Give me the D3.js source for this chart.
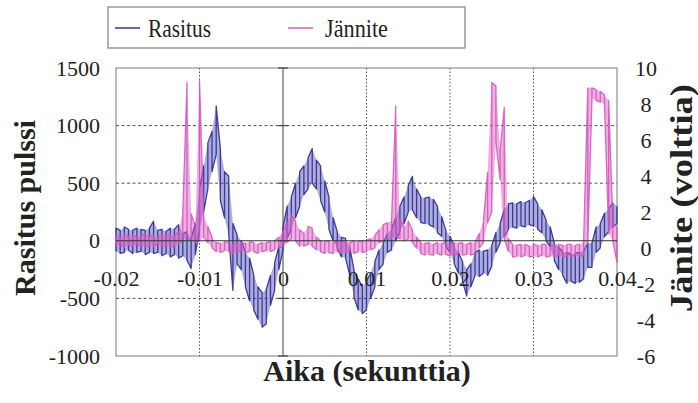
<!DOCTYPE html>
<html>
<head>
<meta charset="utf-8">
<script src="https://cdn.jsdelivr.net/npm/d3@7"></script>
<style>
  body { margin: 0; background: #fff; }
  svg text { font-family: "Liberation Serif", "Times New Roman", serif; fill: #222; }
</style>
</head>
<body>
<div id="chart"></div>
<script>
// sample times (s)
const times = [
  -0.0200, -0.0195, -0.0190, -0.0185, -0.0180, -0.0175, -0.0170, -0.0165, -0.0160, -0.0155,
  -0.0150, -0.0145, -0.0140, -0.0135, -0.0130, -0.0125, -0.0120, -0.0115, -0.0110, -0.0105,
  -0.0100, -0.0095, -0.0090, -0.0085, -0.0080, -0.0075, -0.0070, -0.0065, -0.0060, -0.0055,
  -0.0050, -0.0045, -0.0040, -0.0035, -0.0030, -0.0025, -0.0020, -0.0015, -0.0010, -0.0005,
   0.0000,  0.0005,  0.0010,  0.0015,  0.0020,  0.0025,  0.0030,  0.0035,  0.0040,  0.0045,
   0.0050,  0.0055,  0.0060,  0.0065,  0.0070,  0.0075,  0.0080,  0.0085,  0.0090,  0.0095,
   0.0100,  0.0105,  0.0110,  0.0115,  0.0120,  0.0125,  0.0130,  0.0135,  0.0140,  0.0145,
   0.0150,  0.0155,  0.0160,  0.0165,  0.0170,  0.0175,  0.0180,  0.0185,  0.0190,  0.0195,
   0.0200,  0.0205,  0.0210,  0.0215,  0.0220,  0.0225,  0.0230,  0.0235,  0.0240,  0.0245,
   0.0250,  0.0255,  0.0260,  0.0265,  0.0270,  0.0275,  0.0280,  0.0285,  0.0290,  0.0295,
   0.0300,  0.0305,  0.0310,  0.0315,  0.0320,  0.0325,  0.0330,  0.0335,  0.0340,  0.0345,
   0.0350,  0.0355,  0.0360,  0.0365,  0.0370,  0.0375,  0.0380,  0.0385,  0.0390,  0.0395,
   0.0400
];

// Rasitus (left axis): low / high of the noisy trace at each sample
const rasitusLo = [
  -90, -110, -100, -80, -110, -100, -90, -120, -100, -110,
  -100, -130, -110, -140, -120, -150, -130, -170, -240, -120,
  100, 250, 450, 600, 750, 350, 200, 50, -430, -200,
  -250, -400, -520, -600, -680, -750, -720, -560, -430, -250,
  -80, 20, 100, 200, 300, 400, 450, 500, 450, 350,
  250, 100, 0, -60, -140, -150, -300, -490, -600, -630,
  -600, -500, -400, -250, -200, -100, -80, 0, 80, 150,
  250, 270, 200, 160, 150, 140, 120, 70, 40, -50,
  -100, -200, -280, -350, -480, -400, -300, -310, -280, -300,
  -220, -100, -20, 35, 100, 120, 110, 130, 120, 140,
  130, 100, 70, 0, -50, -170, -250, -300, -370, -350,
  -370, -360, -330, -230, -230, -100, -60, 35, 80, 120,
  150
];
const rasitusHi = [
  110, 90, 120, 100, 90, 110, 100, 90, 110, 170,
  90, 100, 80, 110, 100, 140, 60, 80, 20, 150,
  450, 650, 850, 950, 1170, 800, 600, 560, 150, 50,
  0, -100, -150, -300, -400, -450, -420, -300, -190, -50,
  120, 300, 380, 500, 600, 650, 720, 800, 700, 650,
  520, 380, 200, 80, 30, 20, -60, -250, -330, -400,
  -350, -280, -180, -80, -20, 60, 100, 200, 300, 380,
  480, 560, 450, 380, 370, 380, 360, 300, 210, 90,
  40, -50, -100, -180, -250, -200, -100, -80, -90, -80,
  -40, 70, 150, 270, 320, 330, 320, 340, 330, 350,
  385, 320, 270, 180, 120, -20, -50, -100, -100, -120,
  -110, -100, -90, -20, -20, 120, 150, 240, 280, 330,
  300
];

// Jännite (right axis, volts): low / high at each sample
const janniteLo = [
  0.1, 0.2, 0.05, 0.15, 0.1, 0.2, 0.1, 0.05, 0.15, 0.1,
  0.2, 0.1, 0.15, 0.05, 0.1, 0.2, 0.5, 0.6, 0.4, 0.3,
  0.4, 0.6, 0.3, 0.0, -0.2, -0.25, -0.15, -0.2, -0.3, -0.2,
  -0.15, -0.25, -0.2, -0.2, -0.3, -0.2, -0.15, -0.2, -0.1, 0.0,
  0.1, 0.3, 0.5, 0.4, 0.1, 0.1, 0.2, 0.1, -0.1, -0.2,
  -0.3, -0.25, -0.3, -0.2, -0.3, -0.25, -0.2, -0.3, -0.2, -0.25,
  -0.2, -0.1, 0.0, 0.3, 0.4, 0.5, 0.5, 0.6, 0.5, 0.4,
  0.5, 0.3, 0.0, -0.3, -0.4, -0.35, -0.4, -0.3, -0.4, -0.35,
  -0.45, -0.4, -0.3, -0.4, -0.35, -0.4, -0.3, 0.0, 0.3, 1.4,
  2.0, 5.9, 3.8, 0.5, -0.2, -0.5, -0.45, -0.5, -0.4, -0.5,
  -0.45, -0.5, -0.4, -0.5, -0.45, -0.5, -0.4, -0.5, -0.45, -0.5,
  -0.4, -0.5, -0.4, 0.2, 8.3, 8.2, 8.1, 8.0, 0.8, 0.4,
  -0.8
];
const janniteHi = [
  0.7, 0.6, 0.8, 0.65, 0.75, 0.6, 0.7, 0.8, 0.65, 0.7,
  0.6, 0.75, 0.7, 0.8, 0.7, 0.9, 2.0, 9.2, 1.9, 1.2,
  9.3, 1.8, 1.2, 0.6, 0.3, 0.25, 0.35, 0.3, 0.2, 0.3,
  0.3, 0.25, 0.35, 0.3, 0.2, 0.3, 0.3, 0.35, 0.4, 0.6,
  0.9, 1.4, 1.85, 1.5, 1.0, 0.8, 1.2, 1.1, 0.6, 0.4,
  0.35, 0.4, 0.3, 0.4, 0.35, 0.4, 0.3, 0.4, 0.35, 0.4,
  0.45, 0.5, 0.7, 1.0, 1.3, 1.4, 1.5, 7.9, 1.6, 1.2,
  1.5, 1.0, 0.6, 0.3, 0.25, 0.3, 0.2, 0.3, 0.25, 0.3,
  0.2, 0.3, 0.25, 0.3, 0.2, 0.3, 0.3, 0.8, 1.5, 4.2,
  9.2, 9.0, 5.4, 7.8, 0.5, 0.2, 0.15, 0.2, 0.2, 0.1,
  0.2, 0.15, 0.2, 0.2, 0.1, 0.2, 0.2, 0.15, 0.2, 0.2,
  0.15, 0.2, 0.3, 8.9, 8.9, 8.8, 8.7, 8.5, 8.2, 1.5,
  1.2
];

const timeTicks = [-0.02, -0.01, 0, 0.01, 0.02, 0.03, 0.04];
const timeLabels = ["-0.02", "-0.01", "0", "0.01", "0.02", "0.03", "0.04"];
const leftTicks = [1500, 1000, 500, 0, -500, -1000];
const rightTicks = [10, 8, 6, 4, 2, 0, -2, -4, -6];
const seriesNames = ["Rasitus", "Jännite"];

const width = 698, height = 403;
const plot = {left: 116, right: 617, top: 68, bottom: 356};
const blue = "#34349f", pink = "#d452bd";
const serif = "Liberation Serif, Times New Roman, serif";

const svg = d3.select("#chart").append("svg")
    .attr("width", width).attr("height", height);

let x = d3.scaleLinear().domain([-0.02, 0.04]).range([plot.left, plot.right]);
let yL = d3.scaleLinear().domain([-1000, 1500]).range([plot.bottom, plot.top]);
let yR = d3.scaleLinear().domain([-6, 10]).range([plot.bottom, plot.top]);

// frame
svg.append("rect")
    .attr("x", plot.left).attr("y", plot.top)
    .attr("width", plot.right - plot.left).attr("height", plot.bottom - plot.top)
    .attr("fill", "none").attr("stroke", "#9a9a9a").attr("stroke-width", 1.3);

// grid
svg.append("g").selectAll("line")
    .data(leftTicks.filter(d => d != 0 && d != 1500 && d != -1000))
    .join("line")
    .attr("x1", plot.left).attr("x2", plot.right)
    .attr("y1", d => yL(d)).attr("y2", d => yL(d))
    .attr("stroke", "#555").attr("stroke-width", 1).attr("stroke-dasharray", "3,2.5");

svg.append("g").selectAll("line")
    .data(timeTicks.filter(d => d != 0 && d != -0.02 && d != 0.04))
    .join("line")
    .attr("x1", d => x(d)).attr("x2", d => x(d))
    .attr("y1", plot.top).attr("y2", plot.bottom)
    .attr("stroke", "#555").attr("stroke-width", 1).attr("stroke-dasharray", "1.5,2");

// zero lines
svg.append("line")
    .attr("x1", x(0)).attr("x2", x(0)).attr("y1", plot.top).attr("y2", plot.bottom)
    .attr("stroke", "#888").attr("stroke-width", 1.6);
svg.append("g").selectAll("line")
    .data(leftTicks)
    .join("line")
    .attr("x1", x(0) - 5).attr("x2", x(0) + 5)
    .attr("y1", d => yL(d)).attr("y2", d => yL(d))
    .attr("stroke", "#444").attr("stroke-width", 1.2);

// series: light band between low and high, then dense vertical noise strokes
function noisePoints(lo, hi, y) {
    return times.flatMap((t, i) => i % 2 == 0
        ? [[x(t), y(lo[i])], [x(t), y(hi[i])]]
        : [[x(t), y(hi[i])], [x(t), y(lo[i])]]);
}
function drawSeries(lo, hi, y, color, bandOpacity, lineOpacity) {
    let band = d3.area()
        .x((t, i) => x(t))
        .y0((t, i) => y(lo[i]))
        .y1((t, i) => y(hi[i]));
    svg.append("path")
        .attr("d", band(times))
        .attr("fill", color).attr("opacity", bandOpacity);
    svg.append("path")
        .attr("d", d3.line()(noisePoints(lo, hi, y)))
        .attr("fill", "none").attr("stroke", color).attr("stroke-width", 1.3)
        .attr("stroke-linejoin", "round").attr("opacity", lineOpacity);
}
drawSeries(rasitusLo, rasitusHi, yL, blue, 0.4, 0.95);
drawSeries(janniteLo, janniteHi, yR, pink, 0.45, 0.85);

svg.append("line")
    .attr("x1", plot.left).attr("x2", plot.right)
    .attr("y1", yL(0)).attr("y2", yL(0))
    .attr("stroke", "#333").attr("stroke-width", 1.1);

// axes
let axisL = svg.append("g")
    .attr("transform", `translate(${plot.left},0)`)
    .call(d3.axisLeft(yL).tickValues(leftTicks).tickFormat(d => String(d)).tickSize(0).tickPadding(16));
let axisR = svg.append("g")
    .attr("transform", `translate(${plot.right},0)`)
    .call(d3.axisRight(yR).tickValues(rightTicks).tickFormat(d => String(d)).tickSize(0).tickPadding(29));
let axisB = svg.append("g")
    .attr("transform", `translate(0,${yL(0)})`)
    .call(d3.axisBottom(x).tickValues(timeTicks).tickFormat((d, i) => timeLabels[i]).tickSize(0).tickPadding(30));

[axisL, axisR, axisB].forEach(a => {
    a.select(".domain").remove();
    a.selectAll("text")
        .attr("font-family", serif)
        .attr("font-size", 22).attr("fill", "#333");
});
axisR.selectAll("text").attr("text-anchor", "middle");

// titles
svg.append("text")
    .attr("transform", "translate(35,208) rotate(-90)")
    .attr("text-anchor", "middle").attr("font-family", serif)
    .attr("font-weight", "bold").attr("font-size", 30)
    .text("Rasitus pulssi");
svg.append("text")
    .attr("transform", "translate(692,198) rotate(-90)")
    .attr("text-anchor", "middle").attr("font-family", serif)
    .attr("font-weight", "bold").attr("font-size", 32)
    .attr("textLength", 228).attr("lengthAdjust", "spacingAndGlyphs")
    .text("Jänite (volttia)");
svg.append("text")
    .attr("x", 367).attr("y", 381)
    .attr("text-anchor", "middle").attr("font-family", serif)
    .attr("font-weight", "bold").attr("font-size", 30)
    .text("Aika (sekunttia)");

// legend
let legend = svg.append("g");
legend.append("rect")
    .attr("x", 108).attr("y", 7).attr("width", 357).attr("height", 41)
    .attr("fill", "#fff").attr("stroke", "#8a8a8a").attr("stroke-width", 1.3);
let legendX = [115, 288];
let legendColor = ["#6a6aa8", "#d98ccb"];
seriesNames.forEach((name, i) => {
    legend.append("line")
        .attr("x1", legendX[i]).attr("x2", legendX[i] + 25)
        .attr("y1", 28).attr("y2", 28)
        .attr("stroke", legendColor[i]).attr("stroke-width", 2);
    legend.append("text")
        .attr("x", legendX[i] + (i == 0 ? 33 : 37)).attr("y", 37)
        .attr("font-family", serif).attr("font-size", 26)
        .attr("textLength", 63).attr("lengthAdjust", "spacingAndGlyphs")
        .text(name);
});
</script>
</body>
</html>
